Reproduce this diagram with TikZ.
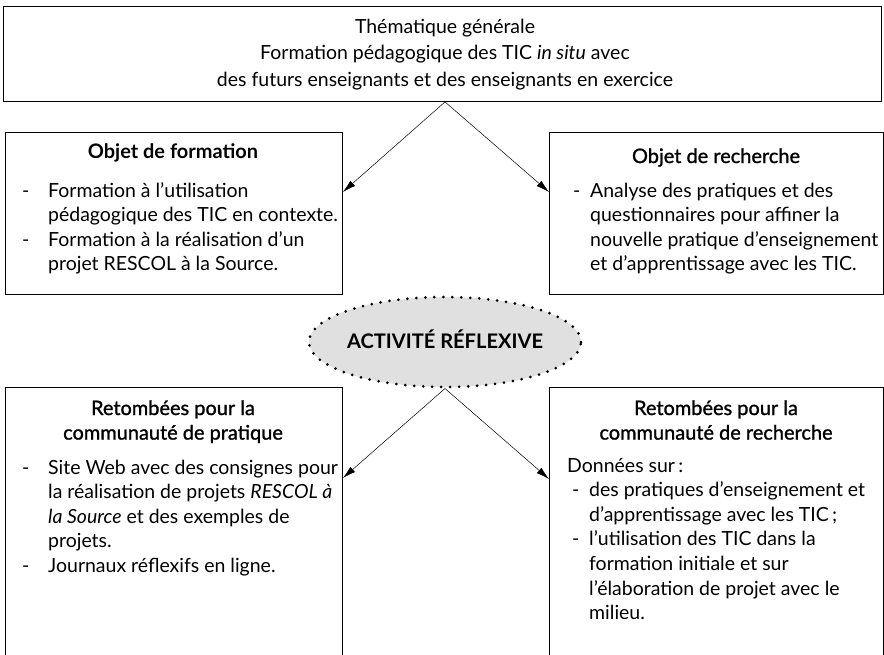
\documentclass[tikz,border=0pt]{standalone}
\usepackage{fontspec}
\setmainfont{Lato}
\newfontface\semib{Lato}[FakeBold=1.2]
\usetikzlibrary{shapes.geometric,arrows.meta}
\newsavebox\calbox
\newdimen\cald
\newcommand\calib[3]{% macro, target width, sample
  \sbox\calbox{\fontsize{10}{12}\selectfont #3}\cald=\wd\calbox
  \pgfmathsetmacro#1{10*#2/\cald}}
\newcommand\itm[2]{\par\noindent\hangindent=#1\hangafter=1\makebox[#1][l]{-}#2}
\tikzset{
  box/.style={draw=black, line width=0.9pt, anchor=north west, inner sep=0pt},
  txt/.style={inner sep=0pt, anchor=base west},
  ttl/.style={inner sep=0pt, anchor=base},
  arr/.style={-{Latex[length=13pt,width=7pt]}, line width=0.5pt},
}
\newcommand\bodyfont{\fontsize{\bodysz}{24.6}\selectfont}
\newcommand\ttlfont{\fontsize{\ttlsz}{24.6}\selectfont}
\begin{document}
\calib{\bodysz}{288}{nouvelle pratique d'enseignement}%
\calib{\topsz}{456}{des futurs enseignants et des enseignants en exercice}%
\calib{\ttlsz}{168}{\semib Objet de recherche}%
\calib{\actsz}{196}{\bfseries ACTIVITÉ RÉFLEXIVE}%
\begin{tikzpicture}[x=1pt,y=-1pt]
\useasboundingbox (0,0) rectangle (884,654);
\clip (0,0) rectangle (884,654);
\fill[white] (0,0) rectangle (884,654);
% boxes
\node[box, minimum width=878pt, minimum height=95pt] (top) at (3,6) {};
\node[box, minimum width=337pt, minimum height=162pt] (bl1) at (5,132) {};
\node[box, minimum width=334pt, minimum height=162pt] (br1) at (549,132) {};
\node[box, minimum width=337pt, minimum height=300pt] (bl2) at (5,387) {};
\node[box, minimum width=334pt, minimum height=300pt] (br2) at (549,387) {};
% top text
\node[ttl] (toptext) at (445,33) {\parbox[t]{860pt}{\centering\fontsize{\topsz}{26.5}\selectfont Thématique générale\\Formation pédagogique des TIC \textit{in situ} avec\\des futurs enseignants et des enseignants en exercice}};
% titles
\node[ttl] (t1) at (173,158) {\ttlfont\bfseries Objet de formation};
\node[ttl] (t2) at (716,163) {\ttlfont\semib Objet de recherche};
\node[ttl] (t3) at (173,415) {\parbox[t]{330pt}{\centering\ttlfont\semib Retombées pour la\\communauté de pratique}};
\node[ttl] (t4) at (716,415) {\parbox[t]{330pt}{\centering\ttlfont\semib Retombées pour la\\communauté de recherche}};
% bodies
\node[txt] (b1) at (22,197) {\parbox[t]{318pt}{\bodyfont\itm{26pt}{Formation à l'utilisation\\pédagogique des TIC en contexte.}\itm{26pt}{Formation à la réalisation d'un\\projet RESCOL à la Source.}}};
\node[txt] (b2) at (573,197) {\parbox[t]{310pt}{\bodyfont\itm{17pt}{Analyse des pratiques et des\\questionnaires pour affiner la\\nouvelle pratique d'enseignement\\et d'apprentissage avec les TIC.}}};
\node[txt] (b3) at (22,474) {\parbox[t]{330pt}{\bodyfont\itm{26pt}{Site Web avec des consignes pour\\la réalisation de projets \textit{RESCOL à}\\\textit{la Source} et des exemples de\\projets.}\itm{26pt}{Journaux réflexifs en ligne.}}};
\node[txt] (b4) at (567,472) {\parbox[t]{316pt}{\bodyfont\noindent Données sur\,:\par\leftskip=5pt\itm{17pt}{des pratiques d'enseignement et\\d'apprentissage avec les TIC\,;}\itm{17pt}{l'utilisation des TIC dans la\\formation initiale et sur\\l'élaboration de projet avec le\\milieu.}}};
% ellipse
\node[ellipse, fill=black!12, draw=black, line width=3pt, dash pattern=on 0pt off 9pt, line cap=round, minimum width=272pt, minimum height=90pt, inner sep=0pt] (act) at (445,342) {};
\node[txt, anchor=base] (acttext) at (445,348) {\fontsize{\actsz}{20}\selectfont\bfseries ACTIVITÉ RÉFLEXIVE};
% arrows
\draw[arr] (top.south -| act.north) -- (bl1.east |- 0,192);
\draw[arr] (top.south -| act.north) -- (br1.west |- 0,192);
\draw[arr] (act.south) -- (bl2.east |- 0,478);
\draw[arr] (act.south) -- (br2.west |- 0,479);
\end{tikzpicture}
\end{document}
